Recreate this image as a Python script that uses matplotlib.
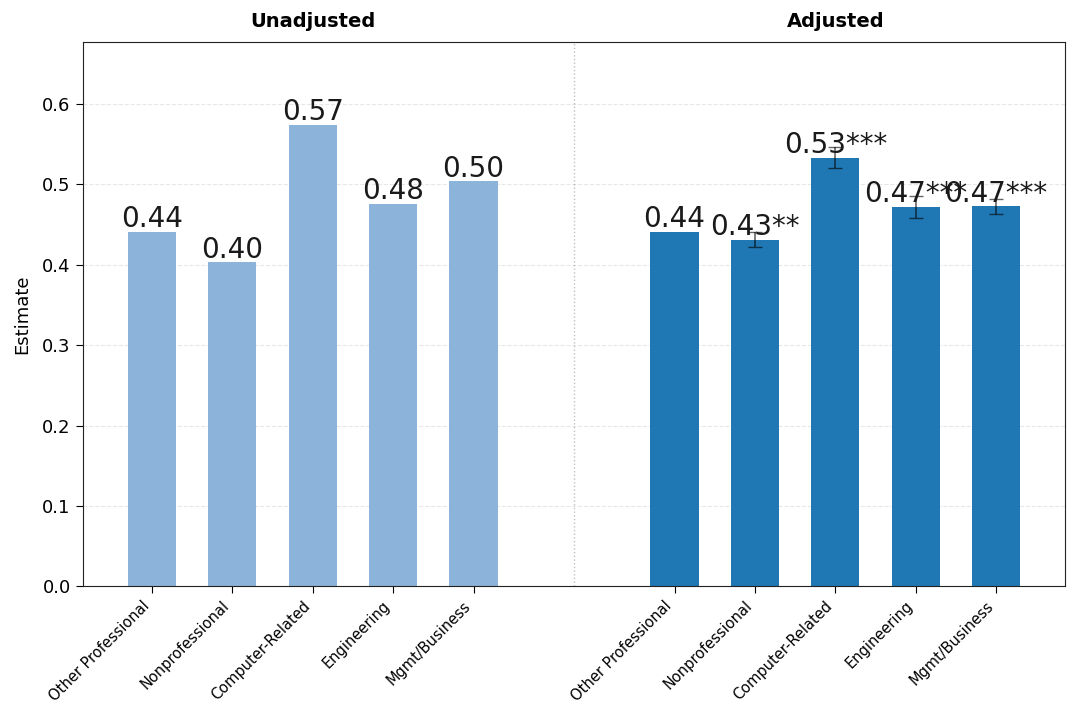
import matplotlib
matplotlib.use("Agg")
import matplotlib.pyplot as plt
import numpy as np

categories = ["Other Professional", "Nonprofessional", "Computer-Related", "Engineering", "Mgmt/Business"]
unadjusted = [0.441, 0.403, 0.574, 0.476, 0.504]
adjusted = [0.441, 0.431, 0.533, 0.472, 0.473]
adjusted_err = [0.0, 0.0093, 0.013, 0.0137, 0.0093]
adjusted_labels = ["0.44", "0.43**", "0.53***", "0.47***", "0.47***"]
unadjusted_labels = ["0.44", "0.40", "0.57", "0.48", "0.50"]

fig, ax = plt.subplots(figsize=(10.8, 7.24), dpi=100)

x1 = np.arange(len(categories))
x2 = x1 + len(categories) + 1.5

ax.bar(x1, unadjusted, width=0.6, color="#8cb3d9")
ax.bar(x2, adjusted, width=0.6, color="#1f77b4")
ax.errorbar(x2[1:], adjusted[1:], yerr=adjusted_err[1:], fmt="none",
            ecolor="black", alpha=0.6, capsize=5, elinewidth=1.2)

for xi, v, lab in zip(x1, unadjusted, unadjusted_labels):
    ax.text(xi, v - 0.002, lab, ha="center", va="bottom", fontsize=20, color="#1a1a1a")
for xi, v, lab in zip(x2, adjusted, adjusted_labels):
    ax.text(xi, v - 0.002, lab, ha="center", va="bottom", fontsize=20, color="#1a1a1a")

ax.axvline((x1[-1] + x2[0]) / 2, color="gray", linestyle=":", linewidth=1, alpha=0.5)

ax.set_xticks(np.concatenate([x1, x2]))
ax.set_xticklabels(categories + categories, rotation=45, ha="right", fontsize=10.5)
ax.set_ylim(0, 0.677)
ax.set_ylabel("Estimate", fontsize=13, labelpad=8)
ax.tick_params(axis="y", labelsize=13, length=5, pad=4)
ax.tick_params(axis="x", length=5)
ax.yaxis.grid(True, linestyle="--", alpha=0.3)
ax.set_axisbelow(True)
for s in ax.spines.values():
    s.set_color("#222222")

ax.text(x1.mean(), 1.02, "Unadjusted", transform=ax.get_xaxis_transform(),
        ha="center", va="bottom", fontsize=14, fontweight="bold")
ax.text(x2.mean(), 1.02, "Adjusted", transform=ax.get_xaxis_transform(),
        ha="center", va="bottom", fontsize=14, fontweight="bold")

fig.subplots_adjust(left=0.077, right=0.986, top=0.942, bottom=0.19)
fig.savefig("out.png", dpi=100)
